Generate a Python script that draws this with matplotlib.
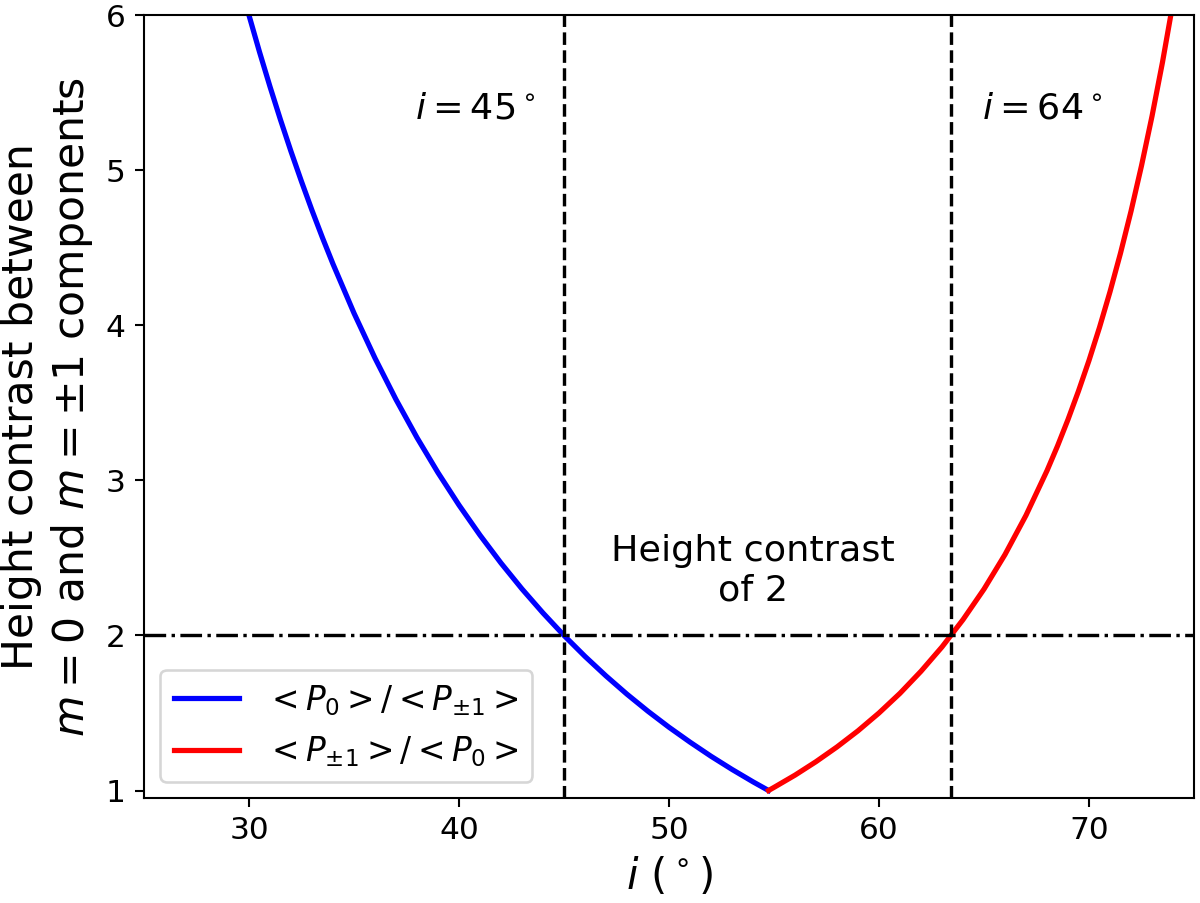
import matplotlib
matplotlib.use("Agg")
import matplotlib.pyplot as plt

# inclinaison (deg) et rapport de hauteur
i_blue = [30, 30.5, 31, 31.5, 32, 32.5, 33, 33.5, 34, 35, 36, 37, 38, 39, 40,
          41, 42, 43, 44, 45, 46, 47, 48, 49, 50, 51, 52, 53, 54, 54.74]
r_blue = [6.0, 5.764, 5.540, 5.326, 5.122, 4.928, 4.742, 4.565, 4.396, 4.079,
          3.789, 3.522, 3.276, 3.050, 2.841, 2.647, 2.467, 2.300, 2.145, 2.0,
          1.865, 1.739, 1.621, 1.511, 1.408, 1.312, 1.221, 1.136, 1.056, 1.0]

i_red = [54.74, 55, 56, 57, 58, 59, 60, 61, 62, 63, 64, 65, 66, 67, 68, 68.5,
         69, 69.5, 70, 70.5, 71, 71.5, 72, 72.5, 73, 73.5, 74]
r_red = [1.0, 1.020, 1.099, 1.186, 1.281, 1.385, 1.5, 1.627, 1.769, 1.926,
         2.102, 2.299, 2.522, 2.775, 3.063, 3.222, 3.393, 3.577, 3.774, 3.987,
         4.217, 4.466, 4.736, 5.030, 5.349, 5.698, 6.081]

i_lines = [45.0, 63.43]
contrast = 2

fig = plt.figure(figsize=(6.4, 4.816), dpi=187.5)
ax = fig.add_axes([0.12, 0.116, 0.875, 0.867])

ax.plot(i_blue, r_blue, color="blue", lw=2, label=r"$<P_0>/<P_{\pm1}>$")
ax.plot(i_red, r_red, color="red", lw=2, label=r"$<P_{\pm1}>/<P_0>$")
for x in i_lines:
    ax.axvline(x, color="black", ls="--", lw=1.3)
ax.axhline(contrast, color="black", ls="-.", lw=1.3)

ax.text(40.8, 5.4, r"$i=45^\circ$", fontsize=14, ha="center", va="center")
ax.text(67.8, 5.4, r"$i=64^\circ$", fontsize=14, ha="center", va="center")
ax.text(54.0, 2.42, "Height contrast\nof 2", fontsize=14, ha="center", va="center")

ax.set_xlim(25, 75)
ax.set_ylim(0.95, 6)
ax.set_xlabel(r"$i$ ($^\circ$)", fontsize=16)
ax.set_ylabel("Height contrast between\n$m=0$ and $m=\\pm1$ components",
              fontsize=16.3, multialignment="center")
ax.tick_params(labelsize=12)
ax.legend(loc="lower left", fontsize=12.6)

fig.savefig("out.png", dpi=187.5)
